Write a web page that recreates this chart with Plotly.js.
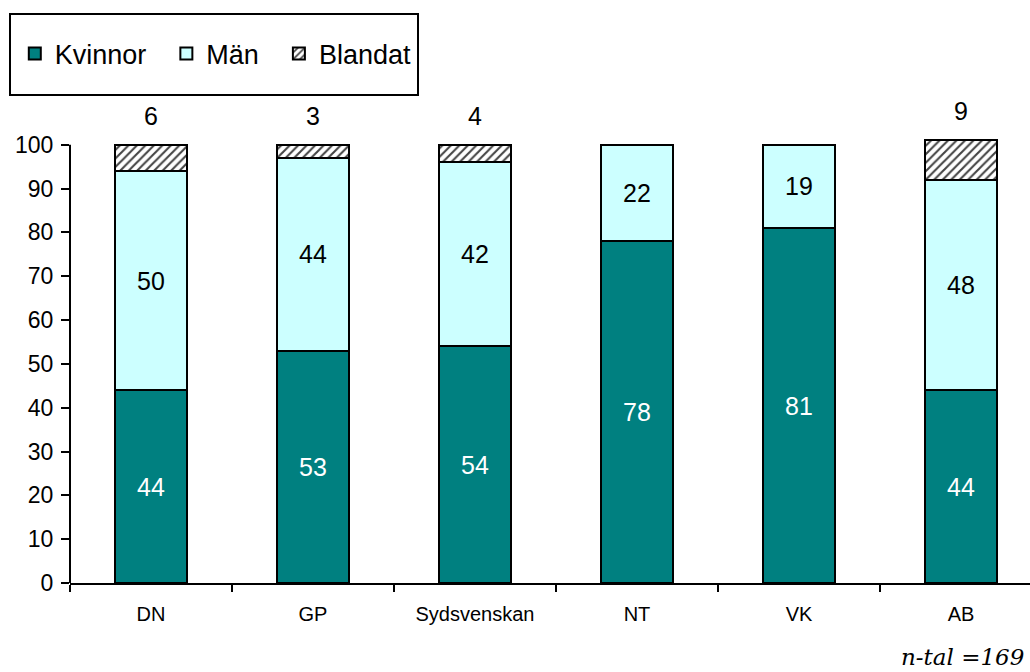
<!DOCTYPE html>
<html lang="sv">
<head>
    <meta charset="UTF-8">
    <title>Kvinnor, män, blandat per tidning</title>
    <script src="https://cdn.plot.ly/plotly-3.0.1.min.js"></script>
    <style>
        html, body { margin: 0; padding: 0; background: white; }
        #chart { width: 1030px; height: 672px; }
    </style>
</head>
<body>
    <div id="chart"></div>
    <script>
        // andelar i procent per tidning
        const tidningar = ['DN', 'GP', 'Sydsvenskan', 'NT', 'VK', 'AB'];
        const kvinnor = [44, 53, 54, 78, 81, 44];
        const man = [50, 44, 42, 22, 19, 48];
        const blandat = [6, 3, 4, null, null, 9];
        const yTicks = [0, 10, 20, 30, 40, 50, 60, 70, 80, 90, 100];

        const FONT = 'Liberation Sans, Arial, sans-serif';
        const PAD = '\u00a0\u00a0'; // extra luft mellan legendposter

        const base = {
            type: 'bar',
            x: tidningar,
            width: 0.44,
            cliponaxis: false,
            textangle: 0,
            hoverinfo: 'skip'
        };

        const traces = [
            Object.assign({}, base, {
                name: 'Kvinnor' + PAD,
                y: kvinnor,
                text: kvinnor.map(String),
                textposition: 'inside',
                insidetextanchor: 'middle',
                textfont: { color: 'white', size: 25, family: FONT },
                marker: { color: '#008080', line: { color: 'black', width: 2 } }
            }),
            Object.assign({}, base, {
                name: 'Män' + PAD,
                y: man,
                text: man.map(String),
                textposition: 'inside',
                insidetextanchor: 'middle',
                textfont: { color: 'black', size: 25, family: FONT },
                marker: { color: '#ccffff', line: { color: 'black', width: 2 } }
            }),
            Object.assign({}, base, {
                name: 'Blandat',
                y: blandat,
                textposition: 'none',
                marker: {
                    color: 'white',
                    line: { color: 'black', width: 2 },
                    pattern: { shape: '/', fgcolor: '#444', bgcolor: 'white', size: 6, solidity: 0.35 }
                }
            })
        ];

        // etiketter ovanför staplarna för Blandat
        const blandLabels = tidningar.map((t, i) => blandat[i] == null ? null : {
            x: t, y: kvinnor[i] + man[i] + blandat[i],
            xref: 'x', yref: 'y', yanchor: 'middle', yshift: 29,
            text: String(blandat[i]), showarrow: false,
            font: { size: 25, family: FONT, color: 'black' }
        }).filter(a => a);

        const layout = {
            width: 1030,
            height: 672,
            margin: { l: 70, r: 0, t: 136, b: 89 },
            paper_bgcolor: 'white',
            plot_bgcolor: 'white',
            barmode: 'stack',
            font: { family: FONT, color: 'black' },
            showlegend: true,
            legend: {
                orientation: 'h',
                x: -0.0575, xanchor: 'left',
                y: 1.1834, yanchor: 'middle',
                borderwidth: 0,
                bgcolor: 'rgba(0,0,0,0)',
                font: { size: 27 },
                traceorder: 'normal',
                itemwidth: 30
            },
            xaxis: {
                type: 'category',
                range: [-0.5, 5.426],
                showline: true, linecolor: 'black', linewidth: 2,
                ticks: 'outside', tickson: 'boundaries', ticklen: 7, tickwidth: 2, tickcolor: 'black',
                tickfont: { size: 20 },
                ticklabelstandoff: 12,
                showgrid: false, zeroline: false
            },
            yaxis: {
                range: [0, 102],
                tickvals: yTicks,
                ticks: 'outside', ticklen: 8, tickwidth: 2, tickcolor: 'black',
                tickfont: { size: 23 },
                ticklabelstandoff: 3,
                showline: false, showgrid: false, zeroline: false
            },
            shapes: [
                { type: 'line', xref: 'paper', yref: 'y', x0: 0, x1: 0, y0: 0, y1: 100,
                  line: { color: 'black', width: 2 } },
                // legendram
                { type: 'rect', xref: 'paper', yref: 'paper', x0: -0.0625, x1: 0.3625, y0: 1.0917, y1: 1.273,
                  line: { color: 'black', width: 2 }, fillcolor: 'rgba(0,0,0,0)' }
            ],
            annotations: blandLabels.concat([
                { xref: 'paper', yref: 'paper', x: 0.9955, y: -0.165, xanchor: 'right', yanchor: 'middle',
                  text: '<i>n-tal =169</i>', showarrow: false,
                  font: { family: 'DejaVu Serif, serif', size: 23, color: 'black' } }
            ])
        };

        Plotly.newPlot('chart', traces, layout, { displayModeBar: false, staticPlot: true });
    </script>
</body>
</html>
